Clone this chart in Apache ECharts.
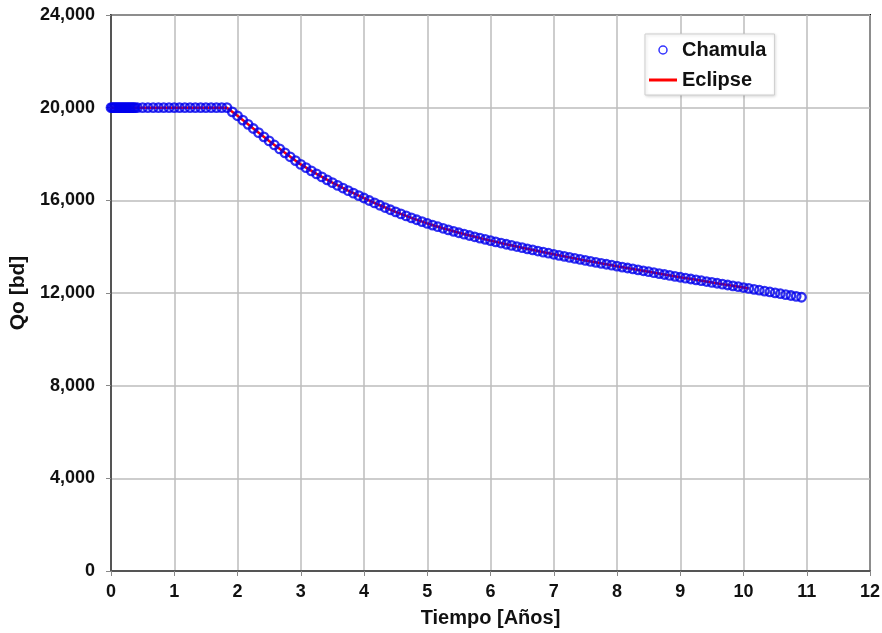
<!DOCTYPE html>
<html>
<head>
<meta charset="utf-8">
<script src="https://cdn.jsdelivr.net/npm/echarts@6/dist/echarts.min.js"></script>
<style>html,body{margin:0;padding:0;background:#fff}#c{width:882px;height:633px}</style>
</head>
<body>
<div id="c"></div>
<script>
var chamulaT = [0,0.02,0.04,0.06,0.08,0.1,0.12,0.14,0.16,0.18,0.2,0.22,0.24,0.26,0.28,0.3,0.32,0.34,0.36,0.38,
0.417,0.5,0.583,0.667,0.75,0.833,0.917,
1,1.083,1.167,1.25,1.333,1.417,1.5,1.583,1.667,1.75,1.833,1.917,
2,2.083,2.167,2.25,2.333,2.417,2.5,2.583,2.667,2.75,2.833,2.917,
3,3.083,3.167,3.25,3.333,3.417,3.5,3.583,3.667,3.75,3.833,3.917,
4,4.083,4.167,4.25,4.333,4.417,4.5,4.583,4.667,4.75,4.833,4.917,
5,5.083,5.167,5.25,5.333,5.417,5.5,5.583,5.667,5.75,5.833,5.917,
6,6.083,6.167,6.25,6.333,6.417,6.5,6.583,6.667,6.75,6.833,6.917,
7,7.083,7.167,7.25,7.333,7.417,7.5,7.583,7.667,7.75,7.833,7.917,
8,8.083,8.167,8.25,8.333,8.417,8.5,8.583,8.667,8.75,8.833,8.917,
9,9.083,9.167,9.25,9.333,9.417,9.5,9.583,9.667,9.75,9.833,9.917,
10,10.083,10.167,10.25,10.333,10.417,10.5,10.583,10.667,10.75,10.833,10.917];
var chamulaQ = [20000,20000,20000,20000,20000,20000,20000,20000,20000,20000,20000,20000,20000,20000,20000,20000,20000,20000,20000,20000,
20000,20000,20000,20000,20000,20000,20000,
20000,20000,20000,20000,20000,20000,20000,20000,20000,20000,20000,19820,
19650,19465,19280,19100,18920,18740,18565,18390,18220,18050,17880,17715,
17550,17410,17274,17141,17012,16886,16764,16645,16530,16418,16310,16205,
16100,15992,15888,15787,15689,15594,15502,15413,15327,15243,15161,15081,
15003,14931,14861,14793,14727,14663,14601,14541,14483,14426,14370,14315,
14261,14208,14156,14105,14055,14005,13956,13907,13859,13811,13764,13717,
13671,13626,13581,13537,13493,13450,13407,13365,13323,13281,13240,13199,
13159,13119,13079,13039,12999,12959,12919,12879,12839,12799,12759,12719,
12679,12642,12605,12568,12531,12494,12457,12420,12383,12346,12309,12272,
12235,12197,12159,12121,12083,12045,12007,11969,11931,11893,11855,11817];
var eclipseT = [0,0.25,0.5,0.75,1,1.25,1.5,1.75,1.833,2,2.25,2.5,2.75,3,3.25,3.5,3.75,4,4.25,4.5,4.75,5,5.25,5.5,5.75,6,6.25,6.5,6.75,7,7.25,7.5,7.75,8,8.25,8.5,8.75,9,9.25,9.5,9.75,10,10.083];
var eclipseQ = [20000,20000,20000,20000,20000,20000,20000,20000,20000,19650,19100,18565,18050,17550,17141,16764,16418,16100,15787,15502,15243,15003,14793,14601,14426,14261,14105,13956,13811,13671,13537,13407,13281,13159,13039,12919,12799,12679,12568,12457,12346,12235,12197];
var xTicks = [0,1,2,3,4,5,6,7,8,9,10,11,12];
var yTicks = [0,4000,8000,12000,16000,20000,24000];

function zip(a,b){var r=[];for(var i=0;i<a.length;i++)r.push([a[i],b[i]]);return r;}
var FONT = 'Liberation Sans';
var chart = echarts.init(document.getElementById('c'), null, {renderer:'canvas'});
chart.setOption({
  animation:false,
  backgroundColor:'#fff',
  grid:{left:111,right:12,top:15,bottom:62,show:true,borderColor:'#000',borderWidth:2,outerBoundsMode:'none'},
  legend:{
    left:645, top:34, orient:'vertical',
    padding:[6,8,5,4], itemGap:10, itemWidth:28, itemHeight:8,
    borderColor:'#cfcfcf', borderWidth:1, backgroundColor:'#fff',
    shadowColor:'rgba(0,0,0,0.15)', shadowBlur:3, shadowOffsetX:1, shadowOffsetY:1,
    textStyle:{fontFamily:FONT,fontWeight:'bold',fontSize:20,color:'#111'},
    data:[
      {name:'Chamula', icon:'circle', itemStyle:{color:'rgba(0,0,0,0)',borderColor:'#0000ff',borderWidth:1.5}},
      {name:'Eclipse', icon:'path://M0,0h28v3h-28z', itemStyle:{color:'#ff0000',borderWidth:0}, lineStyle:{opacity:0}}
    ]
  },
  xAxis:{
    type:'value', min:xTicks[0], max:xTicks[xTicks.length-1], interval:1,
    name:'Tiempo [Años]', nameLocation:'middle', nameGap:37,
    nameTextStyle:{fontFamily:FONT,fontWeight:'bold',fontSize:20,color:'#111'},
    axisLine:{lineStyle:{color:'#555',width:2}},
    axisTick:{show:true,length:5,lineStyle:{color:'#888',width:1}},
    axisLabel:{fontFamily:FONT,fontWeight:'bold',fontSize:18,color:'#111',margin:12},
    splitLine:{show:true,lineStyle:{color:'#bdbdbd',width:1.5}}
  },
  yAxis:{
    type:'value', min:yTicks[0], max:yTicks[yTicks.length-1], interval:4000,
    name:'Qo [bd]', nameLocation:'middle', nameGap:75,
    nameTextStyle:{fontFamily:FONT,fontWeight:'bold',fontSize:21,color:'#111'},
    axisLine:{show:true,lineStyle:{color:'#555',width:2}},
    axisTick:{show:true,length:5,lineStyle:{color:'#888',width:1}},
    axisLabel:{fontFamily:FONT,fontWeight:'bold',fontSize:18,color:'#111',margin:16,
      formatter:function(v){return v.toLocaleString('en-US');}},
    splitLine:{show:true,lineStyle:{color:'#bdbdbd',width:1.5}}
  },
  series:[
    {name:'Chamula', type:'scatter', data:zip(chamulaT,chamulaQ), symbol:'circle', symbolSize:8.5, z:4,
      itemStyle:{color:'rgba(0,0,0,0)',borderColor:'#0000ee',borderWidth:2.3}},
    {name:'Eclipse', type:'line', data:zip(eclipseT,eclipseQ), symbol:'none', showSymbol:false, z:3,
      lineStyle:{color:'#ff0000',width:2.5}, itemStyle:{color:'#ff0000'}}
  ]
});
</script>
</body>
</html>
